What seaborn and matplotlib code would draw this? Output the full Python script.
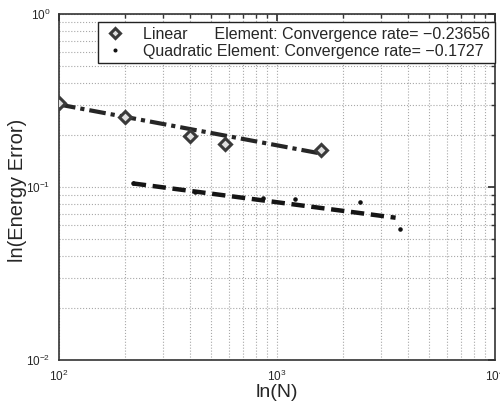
import matplotlib
matplotlib.use("Agg")
import matplotlib.pyplot as plt
import seaborn as sns
import pandas as pd

# data
lin_N = [100, 200, 400, 576, 1600]
lin_E = [0.306, 0.254, 0.197, 0.178, 0.163]
quad_N = [218, 421, 862, 1210, 2403, 3667]
quad_E = [0.105, 0.0935, 0.087, 0.0854, 0.0818, 0.057]
fit_lin_N = [100, 1600]
fit_lin_E = [0.300, 0.156]
fit_quad_N = [218, 3500]
fit_quad_E = [0.105, 0.0665]
lin_label = "Linear      Element: Convergence rate= \u22120.23656"
quad_label = "Quadratic Element: Convergence rate= \u22120.1727"

sns.set_theme(style="white")
plt.rcParams['font.family'] = ['Liberation Sans', 'DejaVu Sans']

fig = plt.figure(figsize=(5.0, 4.01), dpi=100)
ax = fig.add_axes([0.118, 0.102, 0.872, 0.863])
ax.set_xscale('log')
ax.set_yscale('log')

df_lin = pd.DataFrame({"N": lin_N, "E": lin_E})
df_quad = pd.DataFrame({"N": quad_N, "E": quad_E})
df_fl = pd.DataFrame({"N": fit_lin_N, "E": fit_lin_E})
df_fq = pd.DataFrame({"N": fit_quad_N, "E": fit_quad_E})

sns.lineplot(data=df_fl, x="N", y="E", ax=ax, color="#262626", lw=3,
             linestyle=(0, (4, 1.2, 1, 1.2)), legend=False, zorder=3)
sns.lineplot(data=df_fq, x="N", y="E", ax=ax, color="#151515", lw=3.2,
             linestyle=(0, (3, 1.5)), legend=False, zorder=3)
ax.plot(lin_N, lin_E, linestyle='none', marker='D', ms=6.5, mfc='#e0e0e0',
        mec='#3a3a3a', mew=2.2, zorder=4, label=lin_label)
ax.plot(quad_N, quad_E, linestyle='none', marker='.', ms=4.5, color='#111111',
        zorder=4, label=quad_label)

ax.set_xlim(100, 10000)
ax.set_ylim(0.01, 1)
ax.grid(True, which='both', linestyle=':', color='#a8a8a8', lw=0.8)
for s in ax.spines.values():
    s.set_color('#333333')
    s.set_linewidth(1.2)
ax.tick_params(which='both', direction='in', top=True, right=True, color='#333333')
ax.tick_params(which='major', length=5, labelsize=8.5, pad=6)
ax.tick_params(which='minor', length=3)
ax.set_xlabel("ln(N)", fontsize=14, labelpad=0)
ax.set_ylabel("ln(Energy Error)", fontsize=14.5)
ax.yaxis.set_label_coords(-0.074, 0.49)

leg = ax.legend(loc='upper right', bbox_to_anchor=(1.0, 0.977), fontsize=11.5,
                frameon=True, fancybox=False, edgecolor='#222222',
                handlelength=1.5, handletextpad=1.0, borderpad=0.3,
                labelspacing=0.12, borderaxespad=0.0, markerscale=0.85)
leg.get_frame().set_linewidth(1.0)
leg.get_frame().set_alpha(1)

fig.savefig("out.png", dpi=100)
